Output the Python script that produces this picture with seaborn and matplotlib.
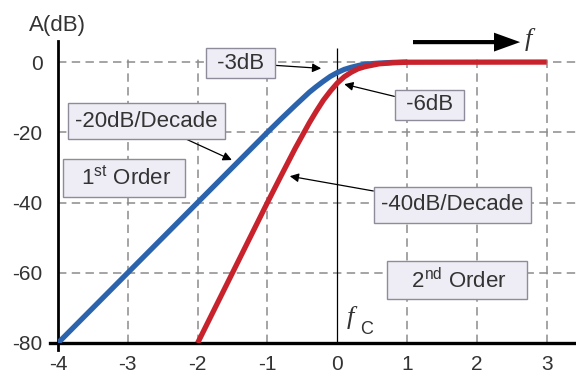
import numpy as np
import pandas as pd
import matplotlib
matplotlib.use("Agg")
import matplotlib.pyplot as plt
import seaborn as sns

# ---- data ----
x_first = [-4, -3, -2, -1, -0.8, -0.6, -0.4, -0.3, -0.2, -0.1, 0, 0.1, 0.2, 0.3, 0.4, 0.6, 0.8, 1.0]
a_first = [-80, -60, -40, -20, -16.1, -12.3, -8.6, -7.0, -5.5, -4.1, -3.0, -2.1, -1.5, -1.0, -0.6, -0.3, -0.1, 0]
x_second = [-2, -1, -0.8, -0.6, -0.4, -0.3, -0.2, -0.1, 0, 0.1, 0.2, 0.3, 0.4, 0.6, 0.8, 1.0, 3]
a_second = [-80, -40, -32.2, -24.5, -17.3, -14.0, -10.9, -8.3, -6.0, -4.2, -2.9, -1.9, -1.3, -0.5, -0.2, -0.05, 0]
x_ticks = [-4, -3, -2, -1, 0, 1, 2, 3]
y_ticks = [0, -20, -40, -60, -80]
order_labels = ["1st Order", "2nd Order"]

sns.set_theme(style="white")
plt.rcParams["font.family"] = ["Liberation Sans", "DejaVu Sans"]
plt.rcParams["mathtext.fontset"] = "custom"
plt.rcParams["mathtext.rm"] = "Liberation Sans"
plt.rcParams["mathtext.it"] = "Liberation Sans:italic"

df = pd.DataFrame({
    "x": x_first + x_second,
    "A": a_first + a_second,
    "order": [order_labels[0]] * len(x_first) + [order_labels[1]] * len(x_second),
})

fig = plt.figure(figsize=(5.76, 3.76), dpi=100)
fig.patch.set_facecolor("white")
ax = fig.add_axes([0.1007, 0.0878, 0.8993, 0.8032])

txt = "#333333"
grid_c = "#8c8c8c"
dash = (0, (5.5, 3.5))

# grid
ax.hlines([0, -20, -40, -60], -4, 3.42, colors=grid_c, lw=1.1, linestyles=dash, zorder=1)
ax.vlines([-3, -2, -1, 1, 2, 3], -80, 2, colors=grid_c, lw=1.1, linestyles=dash, zorder=1)
ax.vlines([0], -80, 4, colors="black", lw=0.9, zorder=1.5)

sns.lineplot(data=df, x="x", y="A", hue="order", estimator=None, sort=False,
             palette={order_labels[0]: "#2b64ad", order_labels[1]: "#c8232c"},
             linewidth=3.8, legend=False, ax=ax, zorder=3)
for ln in ax.get_lines():
    ln.set_solid_capstyle("butt")

ax.set_xlim(-4, 3.42)
ax.set_ylim(-80, 6)
ax.set_xticks(x_ticks)
ax.set_yticks(y_ticks)
ax.set_xticklabels([str(v) for v in x_ticks])
ax.set_yticklabels([str(v) for v in y_ticks])
ax.tick_params(axis="both", length=0, labelsize=15, colors=txt)
ax.tick_params(axis="x", pad=9)
ax.tick_params(axis="y", pad=11)
ax.set_xlabel("")
ax.set_ylabel("")
for s in ["top", "right"]:
    ax.spines[s].set_visible(False)
ax.spines["left"].set_linewidth(2.0)
ax.spines["bottom"].set_linewidth(2.4)
ax.spines["left"].set_color("black")
ax.spines["bottom"].set_color("black")
ax.spines["left"].set_bounds(-82, 6)
ax.spines["bottom"].set_bounds(-4.11, 3.42)
ax.set_facecolor("white")

box_fc = "#eeecf4"
box_ec = "#8e8c9a"

def label(text, xy_text, xy_tip=None, pad=0.3, fs=16):
    bbox = dict(boxstyle=f"square,pad={pad}", fc=box_fc, ec=box_ec, lw=1.0)
    if xy_tip is None:
        ax.text(*xy_text, text, ha="center", va="center", fontsize=fs, color=txt,
                bbox=bbox, zorder=5)
    else:
        ax.annotate(text, xy=xy_tip, xytext=xy_text, ha="center", va="center",
                    fontsize=fs, color=txt, bbox=bbox, zorder=5,
                    arrowprops=dict(arrowstyle="-|>", color="black", lw=0.9,
                                    mutation_scale=13, shrinkA=0, shrinkB=0))

label(" -3dB ", (-1.38, -0.3), (-0.23, -1.8), pad=0.22)
label(" -6dB ", (1.32, -12.2), (0.1, -6.3), pad=0.22)
label("-20dB/Decade", (-2.73, -16.8), (-1.51, -27.9), pad=0.33)
label("-40dB/Decade", (1.65, -40.7), (-0.68, -32.5), pad=0.33)
label(r"  1$^{\mathrm{st}}$ Order  ", (-3.06, -33.0), pad=0.3)
label(r"   2$^{\mathrm{nd}}$ Order   ", (1.71, -62.1), pad=0.3)

# f_C label
ax.text(0.19, -72.6, "f", fontsize=19, family="Liberation Serif", style="italic",
        color=txt, ha="center", va="center", zorder=5)
ax.text(0.42, -76.1, "C", fontsize=13, color=txt, ha="center", va="center", zorder=5)

# axis title
fig.text(0.099, 0.931, "A(dB)", fontsize=16, color=txt, ha="center", va="center")

# frequency arrow
ax.annotate("", xy=(0.903, 0.888), xytext=(0.717, 0.888),
            xycoords="figure fraction", textcoords="figure fraction",
            arrowprops=dict(arrowstyle="simple,head_length=0.94,head_width=0.68,tail_width=0.15",
                            fc="black", ec="none", mutation_scale=20, shrinkA=0, shrinkB=0))
fig.text(0.918, 0.894, "f", fontsize=19, family="Liberation Serif", style="italic",
         color=txt, ha="center", va="center")

fig.savefig("out.png", dpi=100)
